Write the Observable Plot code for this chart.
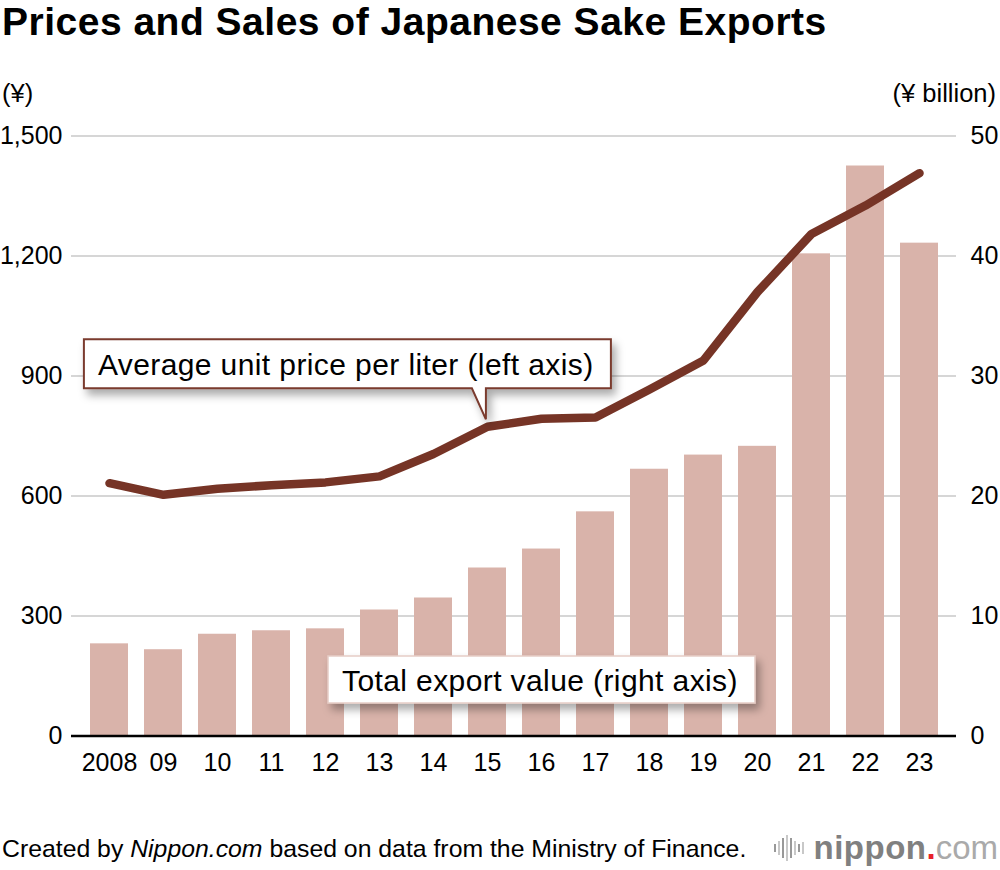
<!DOCTYPE html>
<html><head><meta charset="utf-8">
<script src="https://cdn.jsdelivr.net/npm/d3@7"></script>
<script src="https://cdn.jsdelivr.net/npm/@observablehq/plot@0.6"></script>
<style>
body{margin:0;background:#fff;font-family:"Liberation Sans",Arial,Helvetica,sans-serif;color:#000;}
#wrap{position:relative;width:1000px;height:870px;overflow:hidden;}
#title{position:absolute;left:2px;top:0px;font-size:39px;font-weight:bold;line-height:44px;white-space:nowrap;letter-spacing:0.5px;}
.unit{position:absolute;top:78px;font-size:25.5px;line-height:30px;white-space:nowrap;}
#chart{position:absolute;left:0;top:110px;}
#footer{position:absolute;left:2px;top:834px;font-size:24.8px;line-height:30px;white-space:nowrap;}
#logo{position:absolute;right:2px;top:828px;height:40px;display:flex;align-items:center;white-space:nowrap;}
#wave{display:flex;align-items:center;gap:2px;margin-right:10px;height:30px;}
#wave span{display:block;width:2px;background:#aaa;}
.np{font-size:33px;font-weight:bold;color:#808080;letter-spacing:0.5px;}
.dot{font-size:33px;font-weight:bold;color:#e8202a;}
.com{font-size:33px;color:#aaa;font-weight:normal;}
</style>
</head><body>
<div id="wrap">
  <div id="title">Prices and Sales of Japanese Sake Exports</div>
  <div class="unit" style="left:2px;">(¥)</div>
  <div class="unit" style="right:4px;">(¥ billion)</div>
  <div id="chart"></div>
  <div id="footer">Created by <i>Nippon.com</i> based on data from the Ministry of Finance.</div>
  <div id="logo"><div id="wave"></div><span class="np">nippon</span><span class="dot">.</span><span class="com">com</span></div>
</div>
<script>
const years = ["2008","2009","2010","2011","2012","2013","2014","2015","2016","2017","2018","2019","2020","2021","2022","2023"];
const yearLabels = ["2008","09","10","11","12","13","14","15","16","17","18","19","20","21","22","23"];
const unitPrice = [632,603,618,627,634,649,705,773,793,796,866,939,1110,1255,1326,1407];
const exportValue = [7.68,7.19,8.48,8.77,8.93,10.5,11.5,14.0,15.58,18.68,22.23,23.41,24.14,40.18,47.5,41.07];
const leftTicks = [0,300,600,900,1200,1500];
const rightTicks = [0,10,20,30,40,50];
const priceLabel = "Average unit price per liter (left axis)";
const valueLabel = "Total export value (right axis)";
const calloutYear = "2015";

const ratio = leftTicks[leftTicks.length-1] / rightTicks[rightTicks.length-1];
const table = years.map((y,i)=>({year:y, price:unitPrice[i], value:exportValue[i], valueScaled:exportValue[i]*ratio}));

const wave = document.getElementById("wave");
[8,14,20,26,20,14,8,12].forEach((h,i)=>{const s=document.createElement("span");s.style.height=h+"px";s.style.background=i%2?"#c8c8c8":"#999";wave.appendChild(s);});

const FONT = '"Liberation Sans", Arial, Helvetica, sans-serif';

function callouts(index, scales, values, dimensions, context) {
  const g = d3.create("svg:g").attr("text-anchor","start");
  const defs = g.append("defs");
  const f = defs.append("filter").attr("id","cshadow").attr("x","-10%").attr("y","-30%").attr("width","130%").attr("height","180%");
  f.append("feDropShadow").attr("dx",4).attr("dy",6).attr("stdDeviation",4).attr("flood-color","#000").attr("flood-opacity",0.33);
  const xs = scales.x, ys = scales.y;
  const step = xs(years[1]) - xs(years[0]);
  const bw = step * 0.7;
  const i = years.indexOf(calloutYear);
  const cx = xs(years[i]) + bw/2, cy = ys(unitPrice[i]);
  const tx = cx - 1, ty = cy - 7;
  const L = cx - 403, R = cx + 124, B = cy - 38, T = cy - 87;
  g.append("path")
    .attr("d", `M${L},${T}H${R}V${B}H${tx}V${ty}L${cx-15},${B}H${L}Z`)
    .attr("fill","#fff").attr("stroke","#7a3a2e").attr("stroke-width",2)
    .attr("filter","url(#cshadow)");
  g.append("text").attr("x", L+14).attr("y", T+35.5)
    .attr("font-size",30).attr("letter-spacing",0.4).attr("font-family",FONT).attr("fill","#000").attr("text-anchor","start").text(priceLabel);
  // second box (value)
  const L2 = 328, T2 = 546, R2 = 755, B2 = 593;
  g.append("rect").attr("x",L2).attr("y",T2).attr("width",R2-L2).attr("height",B2-T2)
    .attr("fill","#fff").attr("stroke","#e6cdc6").attr("stroke-width",1.5)
    .attr("filter","url(#cshadow)");
  g.append("text").attr("x", L2+14).attr("y", T2+34.5)
    .attr("font-size",30).attr("letter-spacing",0.4).attr("font-family",FONT).attr("fill","#000").attr("text-anchor","start").text(valueLabel);
  return g.node();
}

const chart = Plot.plot({
  width: 1000,
  height: 680,
  marginLeft: 71,
  marginRight: 44,
  marginTop: 25.5,
  marginBottom: 54.5,
  style: {fontFamily: FONT, fontSize: "25px", color: "#000", background: "transparent", overflow: "visible"},
  x: {type: "band", domain: years, padding: 0.3},
  y: {domain: [0, 1500]},
  marks: [
    Plot.gridY(leftTicks.slice(1), {stroke: "#c8c8c8", strokeOpacity: 1, strokeWidth: 1.5}),
    Plot.barY(table, {x: "year", y: "valueScaled", fill: "#d9b3aa"}),
    Plot.ruleY([0], {stroke: "#000", strokeWidth: 2.5}),
    Plot.lineY(table, {x: "year", y: "price", stroke: "#763426", strokeWidth: 8.5, strokeLinecap: "round", strokeLinejoin: "round"}),
    Plot.axisY(leftTicks, {anchor: "left", tickSize: 0, tickPadding: 9, tickFormat: d3.format(","), fontSize: 25, label: null}),
    Plot.axisY(rightTicks.map(v => v*ratio), {anchor: "right", tickSize: 0, tickPadding: 14, tickFormat: d => String(d/ratio), fontSize: 25, label: null}),
    Plot.axisX({tickSize: 0, tickPadding: 17, tickFormat: d => yearLabels[years.indexOf(d)], fontSize: 25, label: null}),
    callouts
  ]
});
document.getElementById("chart").appendChild(chart);
</script>
</body></html>
